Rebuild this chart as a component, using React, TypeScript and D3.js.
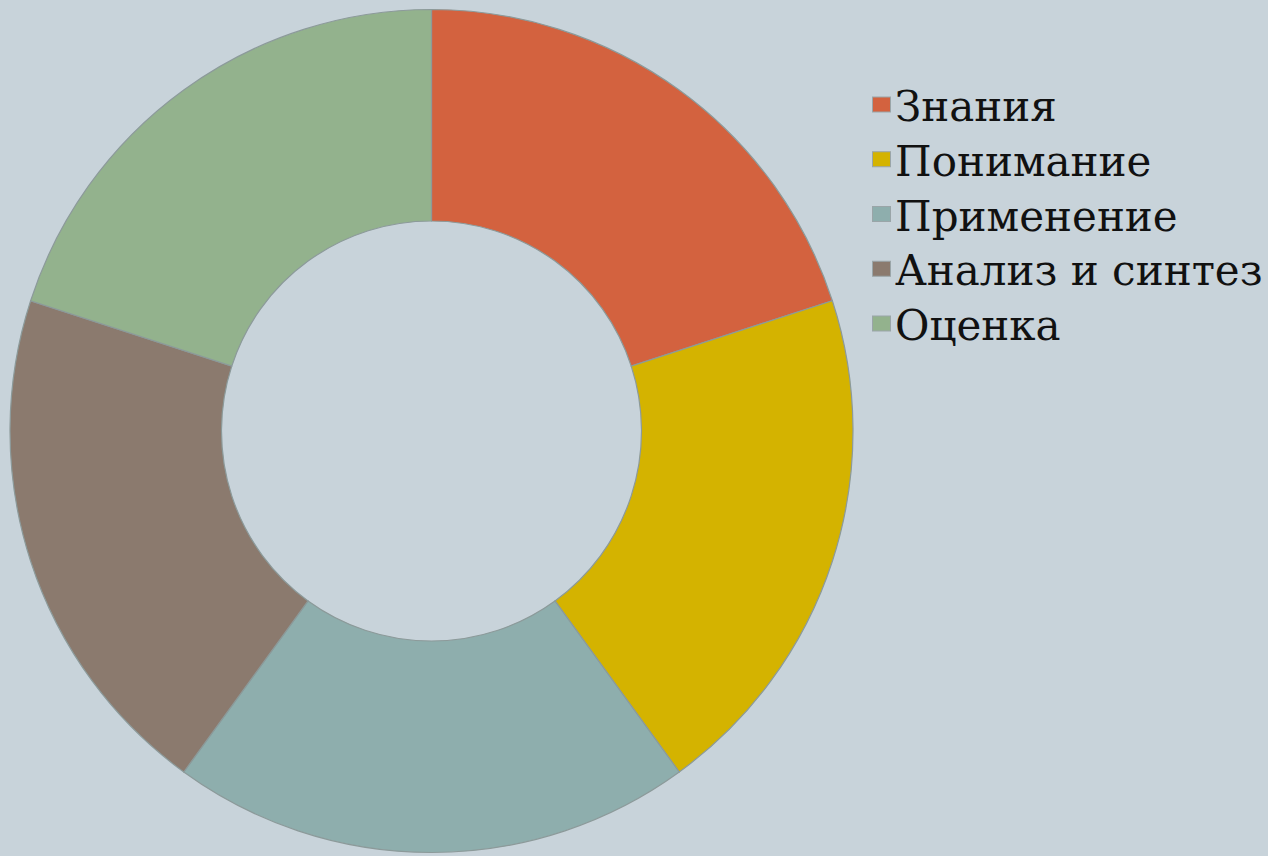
import React from "react";
import * as d3 from "d3";

const categories = ["Знания", "Понимание", "Применение", "Анализ и синтез", "Оценка"];
const values = [20, 20, 20, 20, 20];
const colors = ["#D3623F", "#D4B300", "#8EAEAD", "#8B7A6E", "#93B28D"];

export default function App() {
  const W = 1268, H = 856;
  const cx = 431.5, cy = 431, R = 421.5, r = 210;
  const pie = d3.pie<number>().sort(null).value((d) => d)(values);
  const arc = d3.arc<d3.PieArcDatum<number>>().innerRadius(r).outerRadius(R);
  const legendY = d3.scalePoint<string>().domain(categories).range([121, 340]);
  return (
    <svg width={W} height={H} style={{ position: "absolute", left: 0, top: 0 }}>
      <rect width={W} height={H} fill="#C8D3DA" />
      <g transform={`translate(${cx},${cy})`}>
        {pie.map((p, i) => (
          <path key={i} d={arc(p) || ""} fill={colors[i]} stroke="#8C9A9A" strokeWidth={1.2} />
        ))}
      </g>
      <g>
        {categories.map((c, i) => {
          const base = legendY(c) || 0;
          return (
            <g key={c}>
              <rect x={872.5} y={base - 24} width={18} height={15} fill={colors[i]} stroke="#9AA5A8" strokeWidth={1} />
              <text x={895} y={base} fontFamily="DejaVu Serif" fontSize={42} fill="#111">
                {c}
              </text>
            </g>
          );
        })}
      </g>
    </svg>
  );
}
